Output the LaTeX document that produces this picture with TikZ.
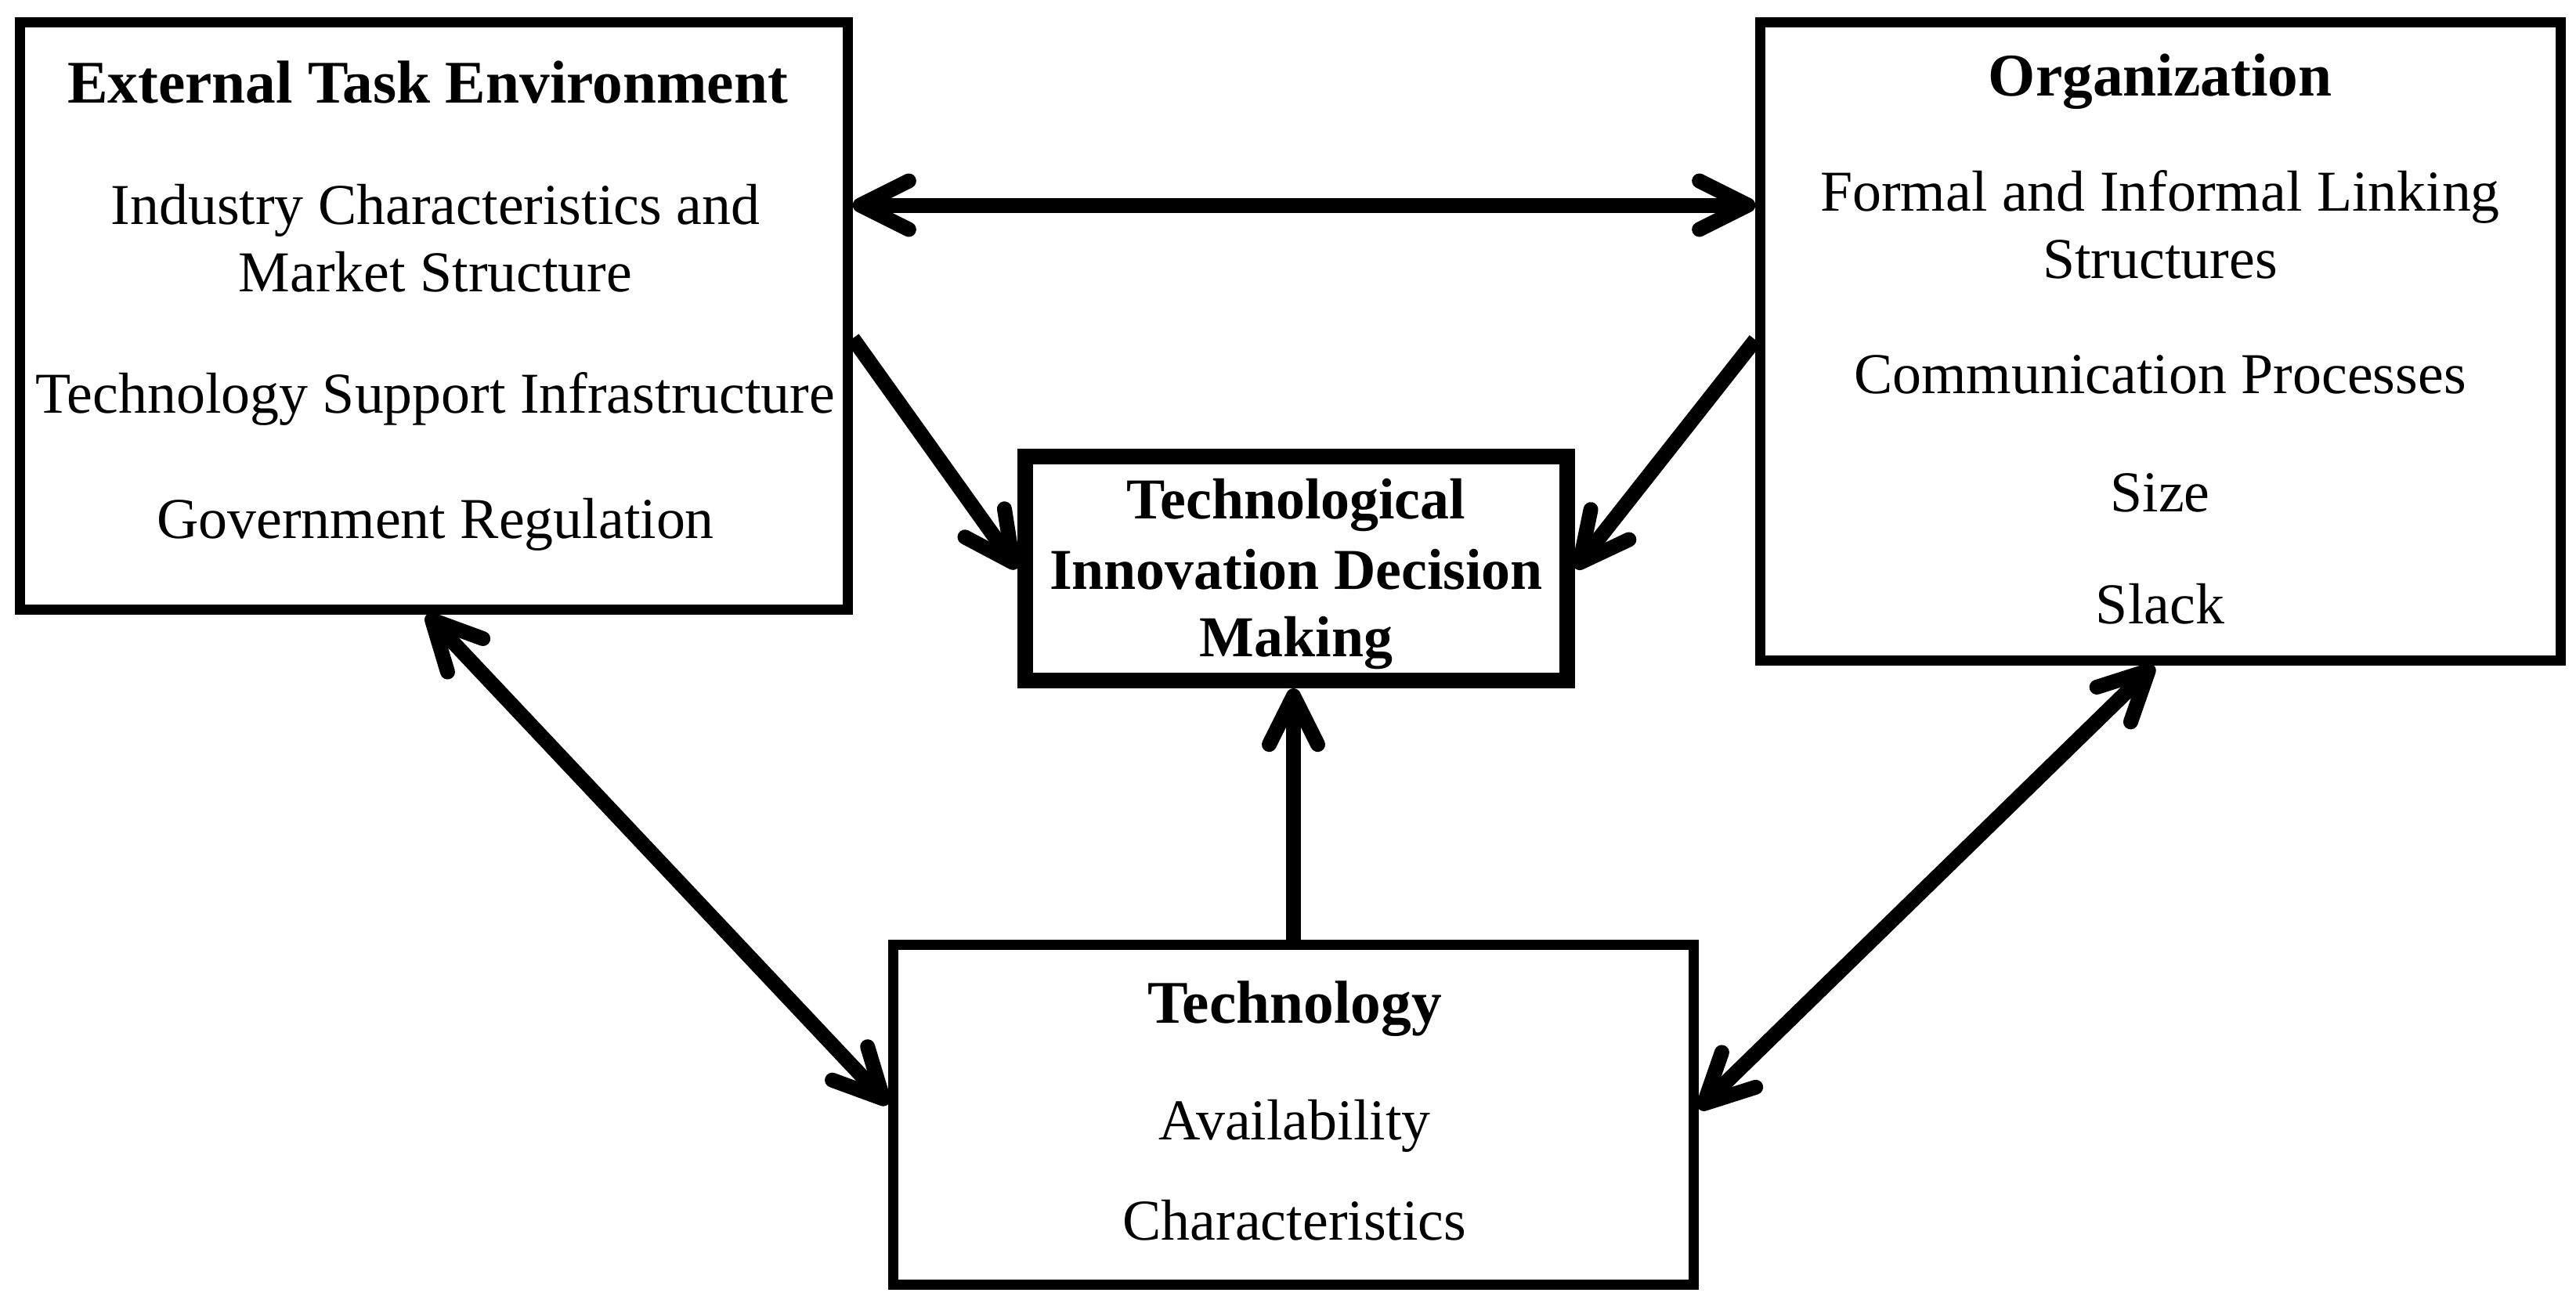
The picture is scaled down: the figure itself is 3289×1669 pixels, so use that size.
\documentclass[tikz,border=0pt]{standalone}
\usepackage{fontspec}
\setmainfont{Liberation Serif}
\usetikzlibrary{arrows.meta,positioning}

\begin{document}
\begin{tikzpicture}[x=0.01cm, y=-0.01cm,
    blockbox/.style={rectangle, draw, line width=0.13cm, inner sep=0pt},
    keybox/.style={rectangle, draw, line width=0.2cm, inner sep=0pt},
    head/.style={font=\fontsize{22}{26}\selectfont\bfseries, anchor=base},
    item/.style={font=\fontsize{21}{24.5}\selectfont, anchor=base},
    keytext/.style={font=\fontsize{21}{24.5}\selectfont\bfseries, anchor=base},
    barb/.tip={Straight Barb[length=0.62cm, width=0.62cm, round]},
    oneway/.style={line width=0.19cm, -barb},
    twoway/.style={line width=0.19cm, barb-barb}
]
\useasboundingbox (0,0) rectangle (3289,1669);

% boxes
\node[blockbox, minimum width=10.56cm, minimum height=7.49cm] (ete) at (554,403.5) {};
\node[blockbox, minimum width=10.21cm, minimum height=8.14cm] (org) at (2758.5,436) {};
\node[keybox, minimum width=6.92cm, minimum height=2.86cm] (tidm) at (1655,726) {};
\node[blockbox, minimum width=10.21cm, minimum height=4.33cm] (tech) at (1651.5,1423.5) {};

% external task environment
\node[head] (ete0) at (546,131) {External Task Environment};
\node[item] (ete1) at (556,286) {Industry Characteristics and};
\node[item] (ete2) at (556,372) {Market Structure};
\node[item] (ete3) at (556,527) {Technology Support Infrastructure};
\node[item] (ete4) at (556,687) {Government Regulation};

% organization
\node[head] (org0) at (2758,122) {Organization};
\node[item] (org1) at (2758,269) {Formal and Informal Linking};
\node[item] (org2) at (2758,355) {Structures};
\node[item] (org3) at (2758,502) {Communication Processes};
\node[item] (org4) at (2758,653) {Size};
\node[item] (org5) at (2758,796) {Slack};

% decision making
\node[keytext] (tidm1) at (1655,662) {Technological};
\node[keytext] (tidm2) at (1655,752) {Innovation Decision};
\node[keytext] (tidm3) at (1655,838) {Making};

% technology
\node[head] (tech0) at (1653,1306) {Technology};
\node[item] (tech1) at (1653,1455) {Availability};
\node[item] (tech2) at (1653,1583) {Characteristics};

% connectors
\coordinate (hrow) at (0,262);
\coordinate (erow) at (0,432);
\coordinate (orow) at (0,434);
\coordinate (lrow) at (0,1410);
\coordinate (rrow) at (0,1416);
\coordinate (lcol) at (545,0);
\coordinate (rcol) at (2750,0);

\draw[twoway] (ete.east |- hrow) -- (org.west |- hrow);
\draw[oneway] (ete.east |- erow) -- (tidm.west);
\draw[oneway] (org.west |- orow) -- (tidm.east);
\draw[oneway] (tech.north) -- (tech.north |- tidm.south);
\draw[twoway] (lcol |- ete.south) -- (tech.west |- lrow);
\draw[twoway] (rcol |- org.south) -- (tech.east |- rrow);
\end{tikzpicture}
\end{document}
